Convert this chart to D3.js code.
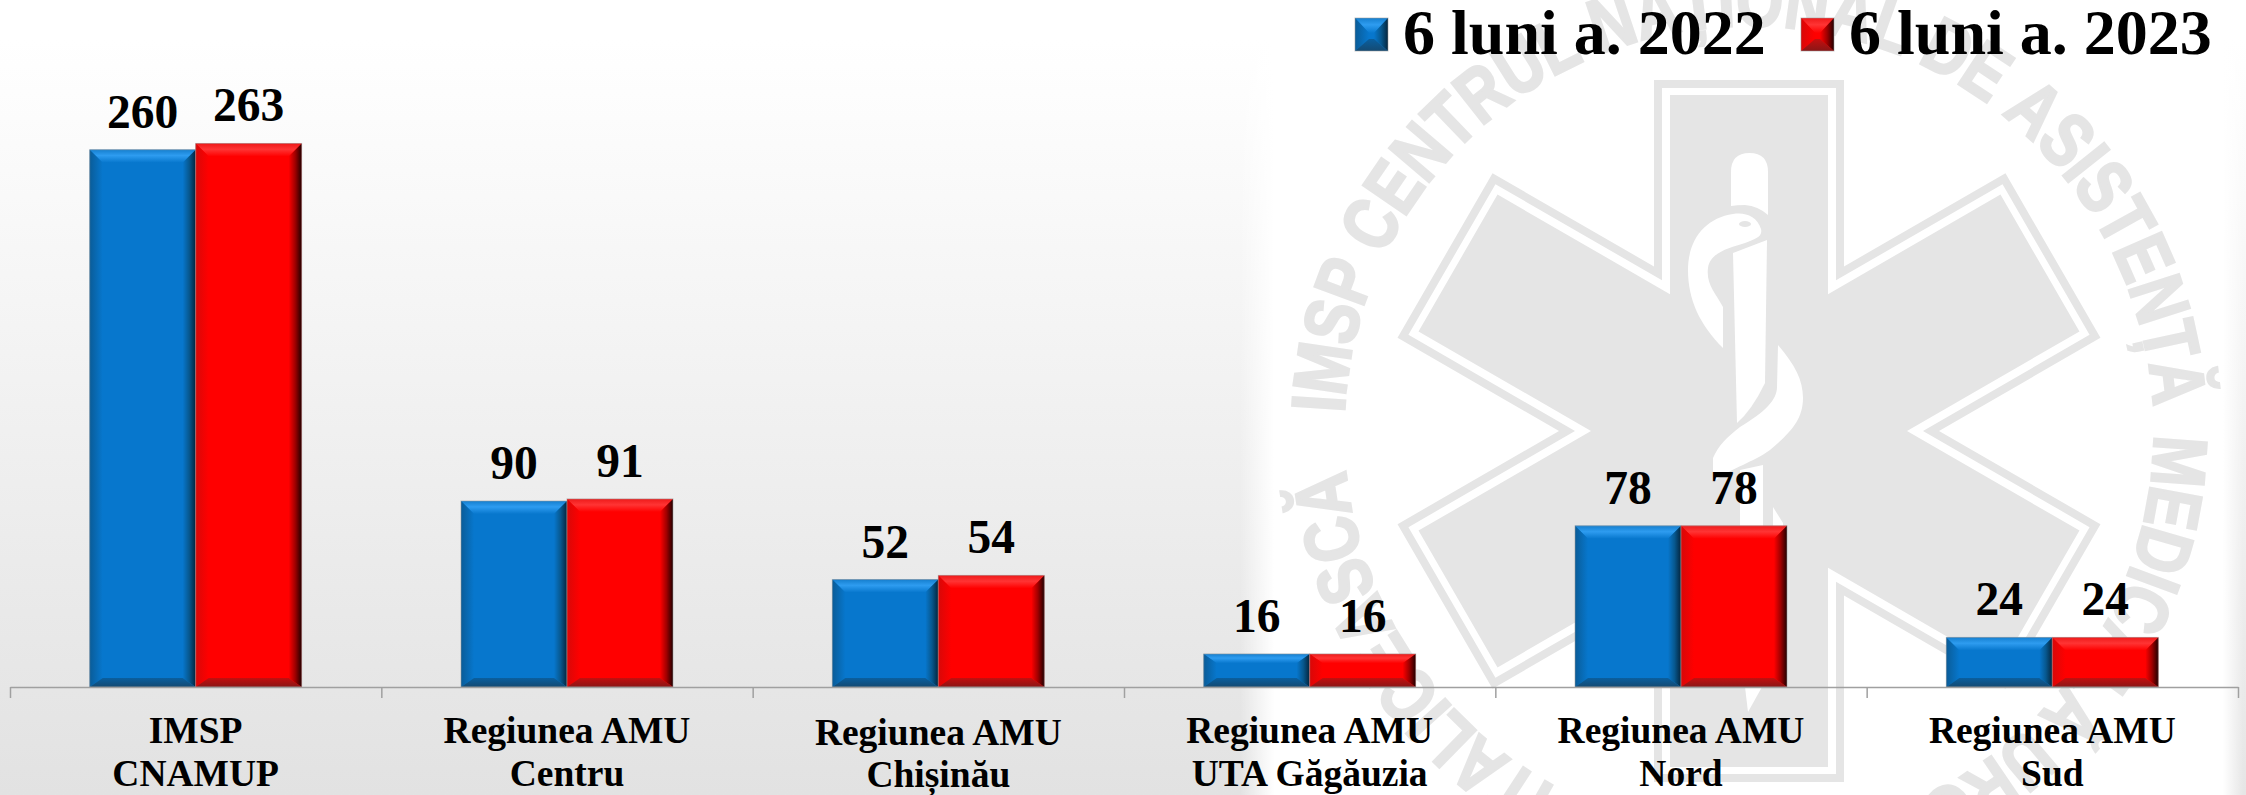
<!DOCTYPE html>
<html lang="en">
	<head>
		<meta charset="utf-8">
		<title>Regiuni AMU - 6 luni</title>
		<script type="text/javascript" src="https://d3js.org/d3.v7.min.js"></script>
		<style type="text/css">
			html, body {
				margin: 0;
				padding: 0;
				background-color: #fff;
				overflow: hidden;
			}
			svg {
				display: block;
			}
			.serif {
				font-family: "Liberation Serif", "Times New Roman", serif;
				font-weight: bold;
				fill: #000;
			}
		</style>
	</head>
	<body>
		<script type="text/javascript">

			var labelLine1 = ["IMSP", "Regiunea AMU", "Regiunea AMU", "Regiunea AMU", "Regiunea AMU", "Regiunea AMU"];
			var labelLine2 = ["CNAMUP", "Centru", "Chișinău", "UTA Găgăuzia", "Nord", "Sud"];
			var seriesNames = ["6 luni a. 2022", "6 luni a. 2023"];
			var values2022 = [260, 90, 52, 16, 78, 24];
			var values2023 = [263, 91, 54, 16, 78, 24];

			var width = 2246, height = 795;
			var seriesValues = [values2022, values2023];
			var seriesKeys = ["blue", "red"];

			var svg = d3.select("body")
						.append("svg")
						.attr("width", width)
						.attr("height", height);

			var defs = svg.append("defs");

			function gradient(id, dir, stops) {
				var g = defs.append("linearGradient")
					.attr("id", id)
					.attr("x1", dir == "left" ? 1 : 0)
					.attr("x2", dir == "right" ? 1 : 0)
					.attr("y1", dir == "top" ? 1 : 0)
					.attr("y2", dir == "bottom" ? 1 : 0);
				stops.forEach(function(s) {
					g.append("stop").attr("offset", s[0]).attr("stop-color", s[1]);
				});
			}

			// bevel bands, gradient runs from the face out to the edge
			var baseColor = { blue: "#0777cd", red: "#ff0000" };
			gradient("blue-top", "top", [[0, "#0777cd"], [0.55, "#2e9cf0"], [1, "#157fcf"]]);
			gradient("blue-left", "left", [[0, "#0777cd"], [1, "#0a5c98"]]);
			gradient("blue-right", "right", [[0, "#0777cd"], [0.5, "#07588f"], [1, "#04253d"]]);
			gradient("blue-bottom", "bottom", [[0, "#0a5f9f"], [1, "#144a72"]]);
			gradient("red-top", "top", [[0, "#ff0000"], [0.55, "#ff3434"], [1, "#ee1a1a"]]);
			gradient("red-left", "left", [[0, "#ff0000"], [1, "#d80808"]]);
			gradient("red-right", "right", [[0, "#ff0000"], [0.5, "#a00000"], [1, "#220000"]]);
			gradient("red-bottom", "bottom", [[0, "#c40f0f"], [1, "#8a1616"]]);

			// page background
			var bg = defs.append("linearGradient").attr("id", "page-bg").attr("x1", 0).attr("x2", 0).attr("y1", 0).attr("y2", 1);
			bg.append("stop").attr("offset", 0.05).attr("stop-color", "#ffffff");
			bg.append("stop").attr("offset", 1).attr("stop-color", "#e2e2e2");
			svg.append("rect").attr("width", width).attr("height", height).attr("fill", "url(#page-bg)");

			var panel = defs.append("linearGradient").attr("id", "panel").attr("gradientUnits", "userSpaceOnUse").attr("x1", 1240).attr("x2", 2246).attr("y1", 0).attr("y2", 0);
			[[0, 0], [0.034, 1], [0.977, 1], [0.997, 0.15]].forEach(function(s) {
				panel.append("stop").attr("offset", s[0]).attr("stop-color", "#fff").attr("stop-opacity", s[1]);
			});
			svg.append("rect").attr("x", 1240).attr("width", 1006).attr("height", height).attr("fill", "url(#panel)");

			// watermark: star of life with circular text
			var cx = 1749, cy = 431, ink = "#e5e5e5";
			var mark = svg.append("g").attr("class", "watermark");

			function star(hw, len) {
				var pts = [];
				for (var k = 0; k < 6; k++) {
					var a = k * Math.PI / 3, c = Math.cos(a), s = Math.sin(a);
					[[-hw, -hw * Math.sqrt(3)], [-hw, -len], [hw, -len]].forEach(function(p) {
						pts.push([cx + p[0] * c - p[1] * s, cy + p[0] * s + p[1] * c]);
					});
				}
				return d3.line()(pts) + "Z";
			}
			mark.append("path").attr("d", star(95, 351)).attr("fill", ink);
			mark.append("path").attr("d", star(87, 343)).attr("fill", "#fff");
			mark.append("path").attr("d", star(79, 336)).attr("fill", ink);

			// staff and snake
			var snake = [
				"M1731,172 Q1731,153 1749.5,153 Q1768,153 1768,172 L1768,215 Q1758,206 1745,205 Q1737,205 1731,206 Z",
				"M1733,253 L1767,240 L1765,383 Q1752,410 1737,423 Z",
				"M1723,348 L1723,307 C1715,292 1706,284 1708,268 C1710,252 1730,248 1745,243 C1755,239 1763,237 1761,229 C1757,216 1745,212 1733,214 C1705,218 1688,240 1688,270 C1688,300 1700,325 1723,348 Z",
				"M1778,345 C1795,365 1803,380 1803,398 C1803,420 1790,433 1770,450 C1752,463 1735,466 1713,482 L1713,458 C1718,446 1727,437 1740,427 C1765,412 1777,400 1777,387 Z",
				"M1740,470 L1763,465 L1763,560 L1740,560 Z",
				"M1773,507 L1783,523 L1783,560 L1773,560 Z",
				"M1745,687 L1762,687 L1748,712 Z"
			];
			mark.selectAll(".snake").data(snake).enter().append("path")
				.attr("class", "snake").attr("d", function(d) { return d; }).attr("fill", "#fff");
			mark.append("ellipse").attr("cx", 1745).attr("cy", 224).attr("rx", 6).attr("ry", 3).attr("fill", ink);

			// ring letters are squeezed one by one, the seal uses a narrower face than we have
			var ringRadius = 405, ringSqueeze = 0.8;
			var ringTexts = [
				{ text: "IMSP CENTRUL NAȚIONAL DE ASISTENȚĂ", a0: -87.5, a1: 86.6 },
				{ text: "MEDICALĂ URGENTĂ PRESPITALICEASCĂ", a0: 90.5, a1: 264.5 }
			];
			ringTexts.forEach(function(r) {
				var letters = r.text.split("").map(function(ch) {
					var t = mark.append("text")
						.attr("font-family", "'Liberation Sans', Arial, sans-serif")
						.attr("font-weight", "bold")
						.attr("font-size", 76)
						.attr("text-anchor", "middle")
						.attr("fill", ink)
						.attr("stroke", ink)
						.attr("stroke-width", 2.5)
						.text(ch);
					return { node: t, w: (ch == " " ? 21 : t.node().getComputedTextLength()) * ringSqueeze };
				});
				var used = d3.sum(letters, function(d) { return d.w; });
				var arcLen = ringRadius * (r.a1 - r.a0) * Math.PI / 180;
				var gap = (arcLen - used) / (letters.length - 1);
				var along = 0;
				letters.forEach(function(d) {
					var ang = r.a0 + (along + d.w / 2) / arcLen * (r.a1 - r.a0);
					d.node.attr("transform", "translate(" + cx + "," + cy + ") rotate(" + ang + ") translate(0," + (-ringRadius) + ") scale(" + ringSqueeze + ",1)");
					along += d.w + gap;
				});
			});

			// scales
			var x0 = d3.scaleBand().domain(d3.range(labelLine1.length)).range([10, 2238]);
			var x1 = d3.scaleBand().domain([0, 1]).range([0, x0.bandwidth()]).paddingOuter(0.7516);
			var tickScale = d3.scaleLinear().domain([0, labelLine1.length]).range([10, 2238]);
			var y = d3.scaleLinear().domain([0, 300]).range([687, 67]);

			// draws one bevelled box as a face plus four bands
			function bevel(g, key, bx, by, bw, bh, side, top, bottom) {
				var bands = {
					top: [[bx, by], [bx + bw, by], [bx + bw - side, by + top], [bx + side, by + top]],
					left: [[bx, by], [bx + side, by + top], [bx + side, by + bh - bottom], [bx, by + bh]],
					right: [[bx + bw, by], [bx + bw, by + bh], [bx + bw - side, by + bh - bottom], [bx + bw - side, by + top]],
					bottom: [[bx, by + bh], [bx + side, by + bh - bottom], [bx + bw - side, by + bh - bottom], [bx + bw, by + bh]]
				};
				g.append("rect").attr("x", bx).attr("y", by).attr("width", bw).attr("height", bh).attr("fill", baseColor[key]);
				Object.keys(bands).forEach(function(name) {
					g.append("path")
						.attr("d", d3.line()(bands[name]) + "Z")
						.attr("fill", "url(#" + key + "-" + name + ")");
				});
				g.append("rect").attr("x", bx).attr("y", by).attr("width", bw).attr("height", bh)
					.attr("fill", "none").attr("stroke", "#9a9a9a").attr("stroke-opacity", 0.55).attr("stroke-width", 1);
			}

			var chart = svg.append("g");

			seriesValues.forEach(function(vals, s) {
				var g = chart.append("g").attr("class", "series-" + s);
				vals.forEach(function(v, i) {
					var bx = x0(i) + x1(s);
					var by = y(v);
					var bh = y(0) - by;
					bevel(g.append("g"), seriesKeys[s], bx, by, x1.bandwidth(), bh, 13, Math.min(13, bh * 0.28), Math.min(9, bh * 0.28));
				});
				g.selectAll("text")
					.data(vals)
					.enter()
					.append("text")
					.attr("class", "serif")
					.attr("text-anchor", "middle")
					.attr("font-size", 47.5)
					.attr("x", function(d, i) { return x0(i) + x1(s) + x1.bandwidth() / 2; })
					.attr("y", function(d) { return y(d) - 22; })
					.text(function(d) { return d; });
			});

			// axis with ticks on the category boundaries
			var axis = svg.append("g")
				.attr("transform", "translate(0," + y(0) + ")")
				.call(d3.axisBottom(tickScale).tickValues(d3.range(labelLine1.length + 1)).tickSize(11).tickSizeOuter(0).tickFormat(""));
			axis.selectAll("path, line").attr("stroke", "#a0a0a0").attr("stroke-width", 1.5);

			var labels = svg.selectAll(".cat")
				.data(labelLine1)
				.enter()
				.append("text")
				.attr("class", "serif cat")
				.attr("text-anchor", "middle")
				.attr("font-size", 37.5);
			labels.append("tspan")
				.attr("x", function(d, i) { return x0(i) + x0.bandwidth() / 2; })
				.attr("y", function(d, i) { return i == 2 ? 745 : 743; })
				.text(function(d) { return d; });
			labels.append("tspan")
				.attr("x", function(d, i) { return x0(i) + x0.bandwidth() / 2; })
				.attr("y", function(d, i) { return i == 2 ? 787 : 786; })
				.text(function(d, i) { return labelLine2[i]; });

			// legend
			var legendX = d3.scaleOrdinal().domain([0, 1]).range([1355, 1801]);
			seriesNames.forEach(function(name, s) {
				var g = svg.append("g").attr("class", "legend");
				bevel(g, seriesKeys[s], legendX(s), 18, 33, 33, 14, 15, 12);
				g.append("text")
					.attr("class", "serif")
					.attr("font-size", 64)
					.attr("x", legendX(s) + 48)
					.attr("y", 54)
					.text(name);
			});

		</script>
	</body>
</html>
